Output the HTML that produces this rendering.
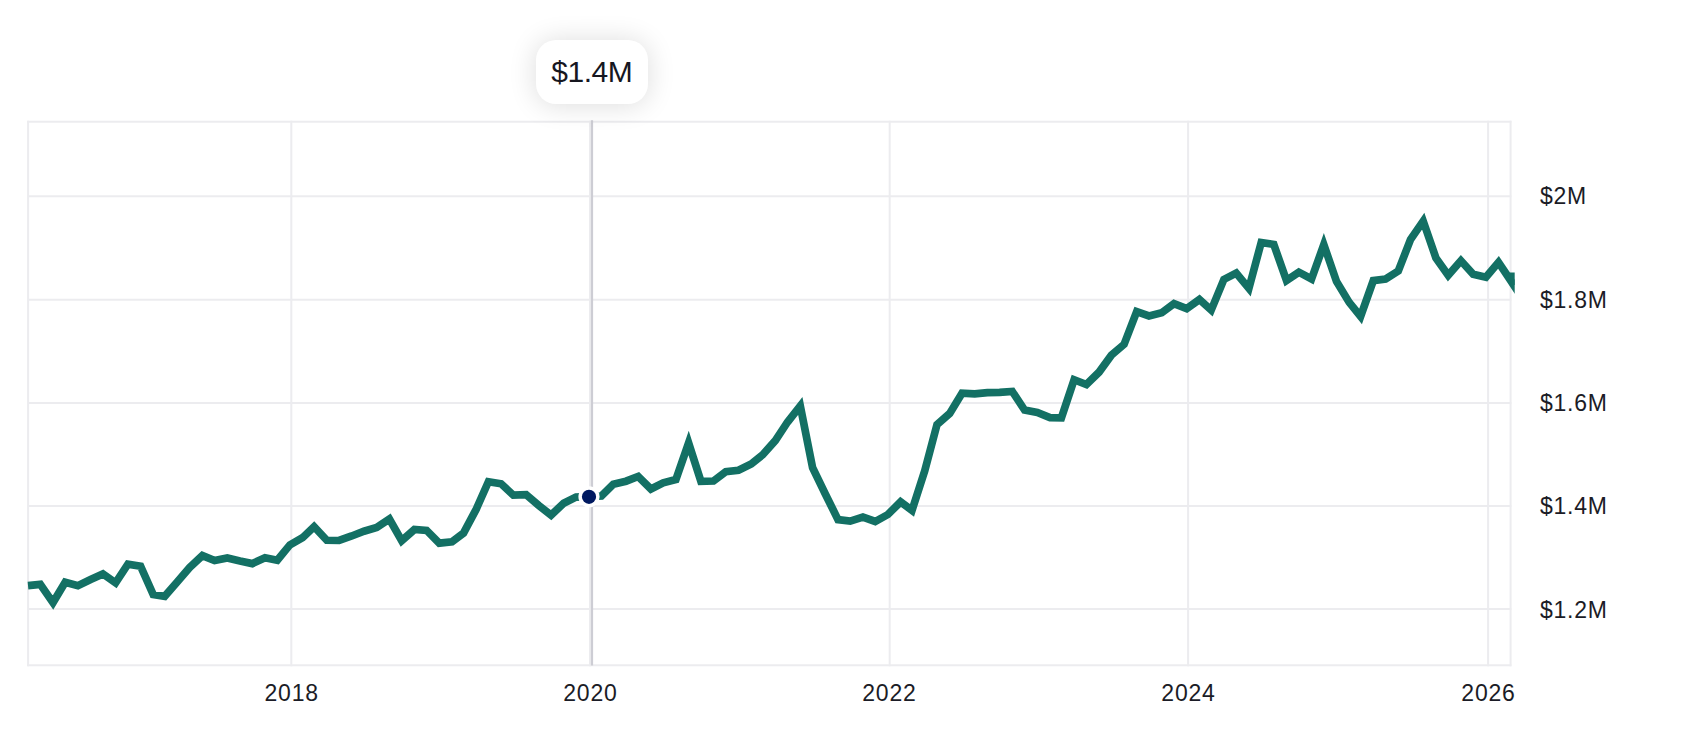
<!DOCTYPE html>
<html><head><meta charset="utf-8"><style>
html,body{margin:0;padding:0;background:#fff;}
body{width:1686px;height:754px;position:relative;overflow:hidden;font-family:"Liberation Sans",sans-serif;color:#1b1c26;}
.yl{position:absolute;left:1540px;font-size:23px;line-height:27px;height:27px;white-space:nowrap;letter-spacing:0.75px;}
.xl{position:absolute;top:680px;width:100px;text-align:center;font-size:23px;line-height:27px;letter-spacing:0.8px;text-indent:0.8px;}
.tip{position:absolute;left:536px;top:40px;width:112px;height:64px;border-radius:20px;background:#fff;box-shadow:0 1px 28px rgba(0,0,0,0.14);font-size:30px;line-height:64px;letter-spacing:-0.5px;text-indent:-0.5px;text-align:center;color:#16171f;}
</style></head><body>
<svg width="1686" height="754" viewBox="0 0 1686 754" style="position:absolute;left:0;top:0"><defs><clipPath id="c"><rect x="0" y="0" width="1514.7" height="754"/></clipPath></defs><line x1="28" x2="1511.4" y1="196.3" y2="196.3" stroke="#ececef" stroke-width="2"/><line x1="28" x2="1511.4" y1="299.7" y2="299.7" stroke="#ececef" stroke-width="2"/><line x1="28" x2="1511.4" y1="402.9" y2="402.9" stroke="#ececef" stroke-width="2"/><line x1="28" x2="1511.4" y1="506.1" y2="506.1" stroke="#ececef" stroke-width="2"/><line x1="28" x2="1511.4" y1="609.1" y2="609.1" stroke="#ececef" stroke-width="2"/><line x1="291.3" x2="291.3" y1="120.8" y2="666.2" stroke="#ececef" stroke-width="2"/><line x1="590.0" x2="590.0" y1="120.8" y2="666.2" stroke="#ececef" stroke-width="2"/><line x1="889.7" x2="889.7" y1="120.8" y2="666.2" stroke="#ececef" stroke-width="2"/><line x1="1188.1" x2="1188.1" y1="120.8" y2="666.2" stroke="#ececef" stroke-width="2"/><line x1="1488.1" x2="1488.1" y1="120.8" y2="666.2" stroke="#ececef" stroke-width="2"/><line x1="27.1" x2="1511.4" y1="121.8" y2="121.8" stroke="#ececef" stroke-width="2"/><line x1="27.1" x2="1511.4" y1="665.2" y2="665.2" stroke="#ececef" stroke-width="2"/><line x1="28.1" x2="28.1" y1="120.8" y2="666.2" stroke="#ececef" stroke-width="2"/><line x1="1510.6" x2="1510.6" y1="120.8" y2="666.2" stroke="#ececef" stroke-width="2"/><line x1="592" x2="592" y1="120.2" y2="665.5" stroke="#cdcdd4" stroke-width="2.2"/><path d="M28.0,585.6 L40.3,584.4 L53.0,602.6 L65.2,582.2 L77.9,585.7 L90.6,579.5 L102.9,573.9 L115.6,582.8 L127.9,564.2 L140.6,566.2 L153.2,594.6 L164.7,596.3 L177.4,581.7 L189.7,567.5 L202.4,555.6 L214.6,560.6 L227.3,558.0 L240.0,561.0 L252.3,563.6 L265.0,557.7 L277.3,560.2 L289.9,544.9 L302.6,537.7 L314.1,526.7 L326.8,540.3 L339.1,540.5 L351.7,536.0 L364.0,531.2 L376.7,527.5 L389.4,519.0 L401.7,540.7 L414.4,529.5 L426.6,530.4 L439.3,543.2 L452.0,541.9 L463.5,533.1 L476.2,509.2 L488.4,481.7 L501.1,483.8 L513.4,495.2 L526.1,494.6 L538.8,505.5 L551.1,515.1 L563.7,503.2 L576.0,497.1 L588.7,496.7 L601.4,496.0 L613.3,484.2 L626.0,481.2 L638.2,476.5 L650.9,489.0 L663.2,482.8 L675.9,479.5 L688.6,443.0 L700.9,481.3 L713.5,481.0 L725.8,471.7 L738.5,470.2 L751.2,464.0 L762.7,454.8 L775.3,440.6 L787.6,422.0 L800.3,405.9 L812.6,467.7 L825.3,494.0 L838.0,519.6 L850.2,521.1 L862.9,517.1 L875.2,521.5 L887.9,514.5 L900.6,501.9 L912.0,510.4 L924.7,471.0 L937.0,424.6 L949.7,413.4 L962.0,393.2 L974.7,393.9 L987.4,392.6 L999.6,392.4 L1012.3,391.5 L1024.6,410.1 L1037.3,412.5 L1050.0,417.6 L1061.4,417.8 L1074.1,379.7 L1086.4,384.5 L1099.1,372.1 L1111.4,355.2 L1124.1,344.3 L1136.7,311.6 L1149.0,315.9 L1161.7,312.8 L1174.0,303.6 L1186.7,308.6 L1199.4,299.5 L1211.2,310.1 L1223.9,279.4 L1236.2,273.0 L1248.9,288.4 L1261.2,242.5 L1273.8,244.5 L1286.5,280.5 L1298.8,272.2 L1311.5,279.0 L1323.8,244.6 L1336.5,281.4 L1349.2,302.4 L1360.6,316.4 L1373.3,280.6 L1385.6,279.0 L1398.3,271.0 L1410.5,239.5 L1423.2,221.1 L1435.9,257.9 L1448.2,275.2 L1460.9,260.7 L1473.2,274.3 L1485.9,277.3 L1498.5,262.3 L1510.0,279.5 L1518.0,291.5" fill="none" stroke="#137064" stroke-width="7.7" stroke-linejoin="miter" stroke-miterlimit="10" clip-path="url(#c)"/><polygon points="1509.9,272.4 1514.7,272.4 1514.7,285 1510.5,285" fill="#137064"/><circle cx="589" cy="496.8" r="10.6" fill="#fff"/><circle cx="589" cy="496.8" r="7.1" fill="#001960"/></svg>
<div class="yl" style="top:182.7px">$2M</div><div class="yl" style="top:287.2px">$1.8M</div><div class="yl" style="top:390.4px">$1.6M</div><div class="yl" style="top:492.8px">$1.4M</div><div class="yl" style="top:596.6px">$1.2M</div><div class="xl" style="left:241.3px">2018</div><div class="xl" style="left:540.0px">2020</div><div class="xl" style="left:839.0px">2022</div><div class="xl" style="left:1138.1px">2024</div><div class="xl" style="left:1438.1px">2026</div>
<div class="tip">$1.4M</div>
</body></html>
